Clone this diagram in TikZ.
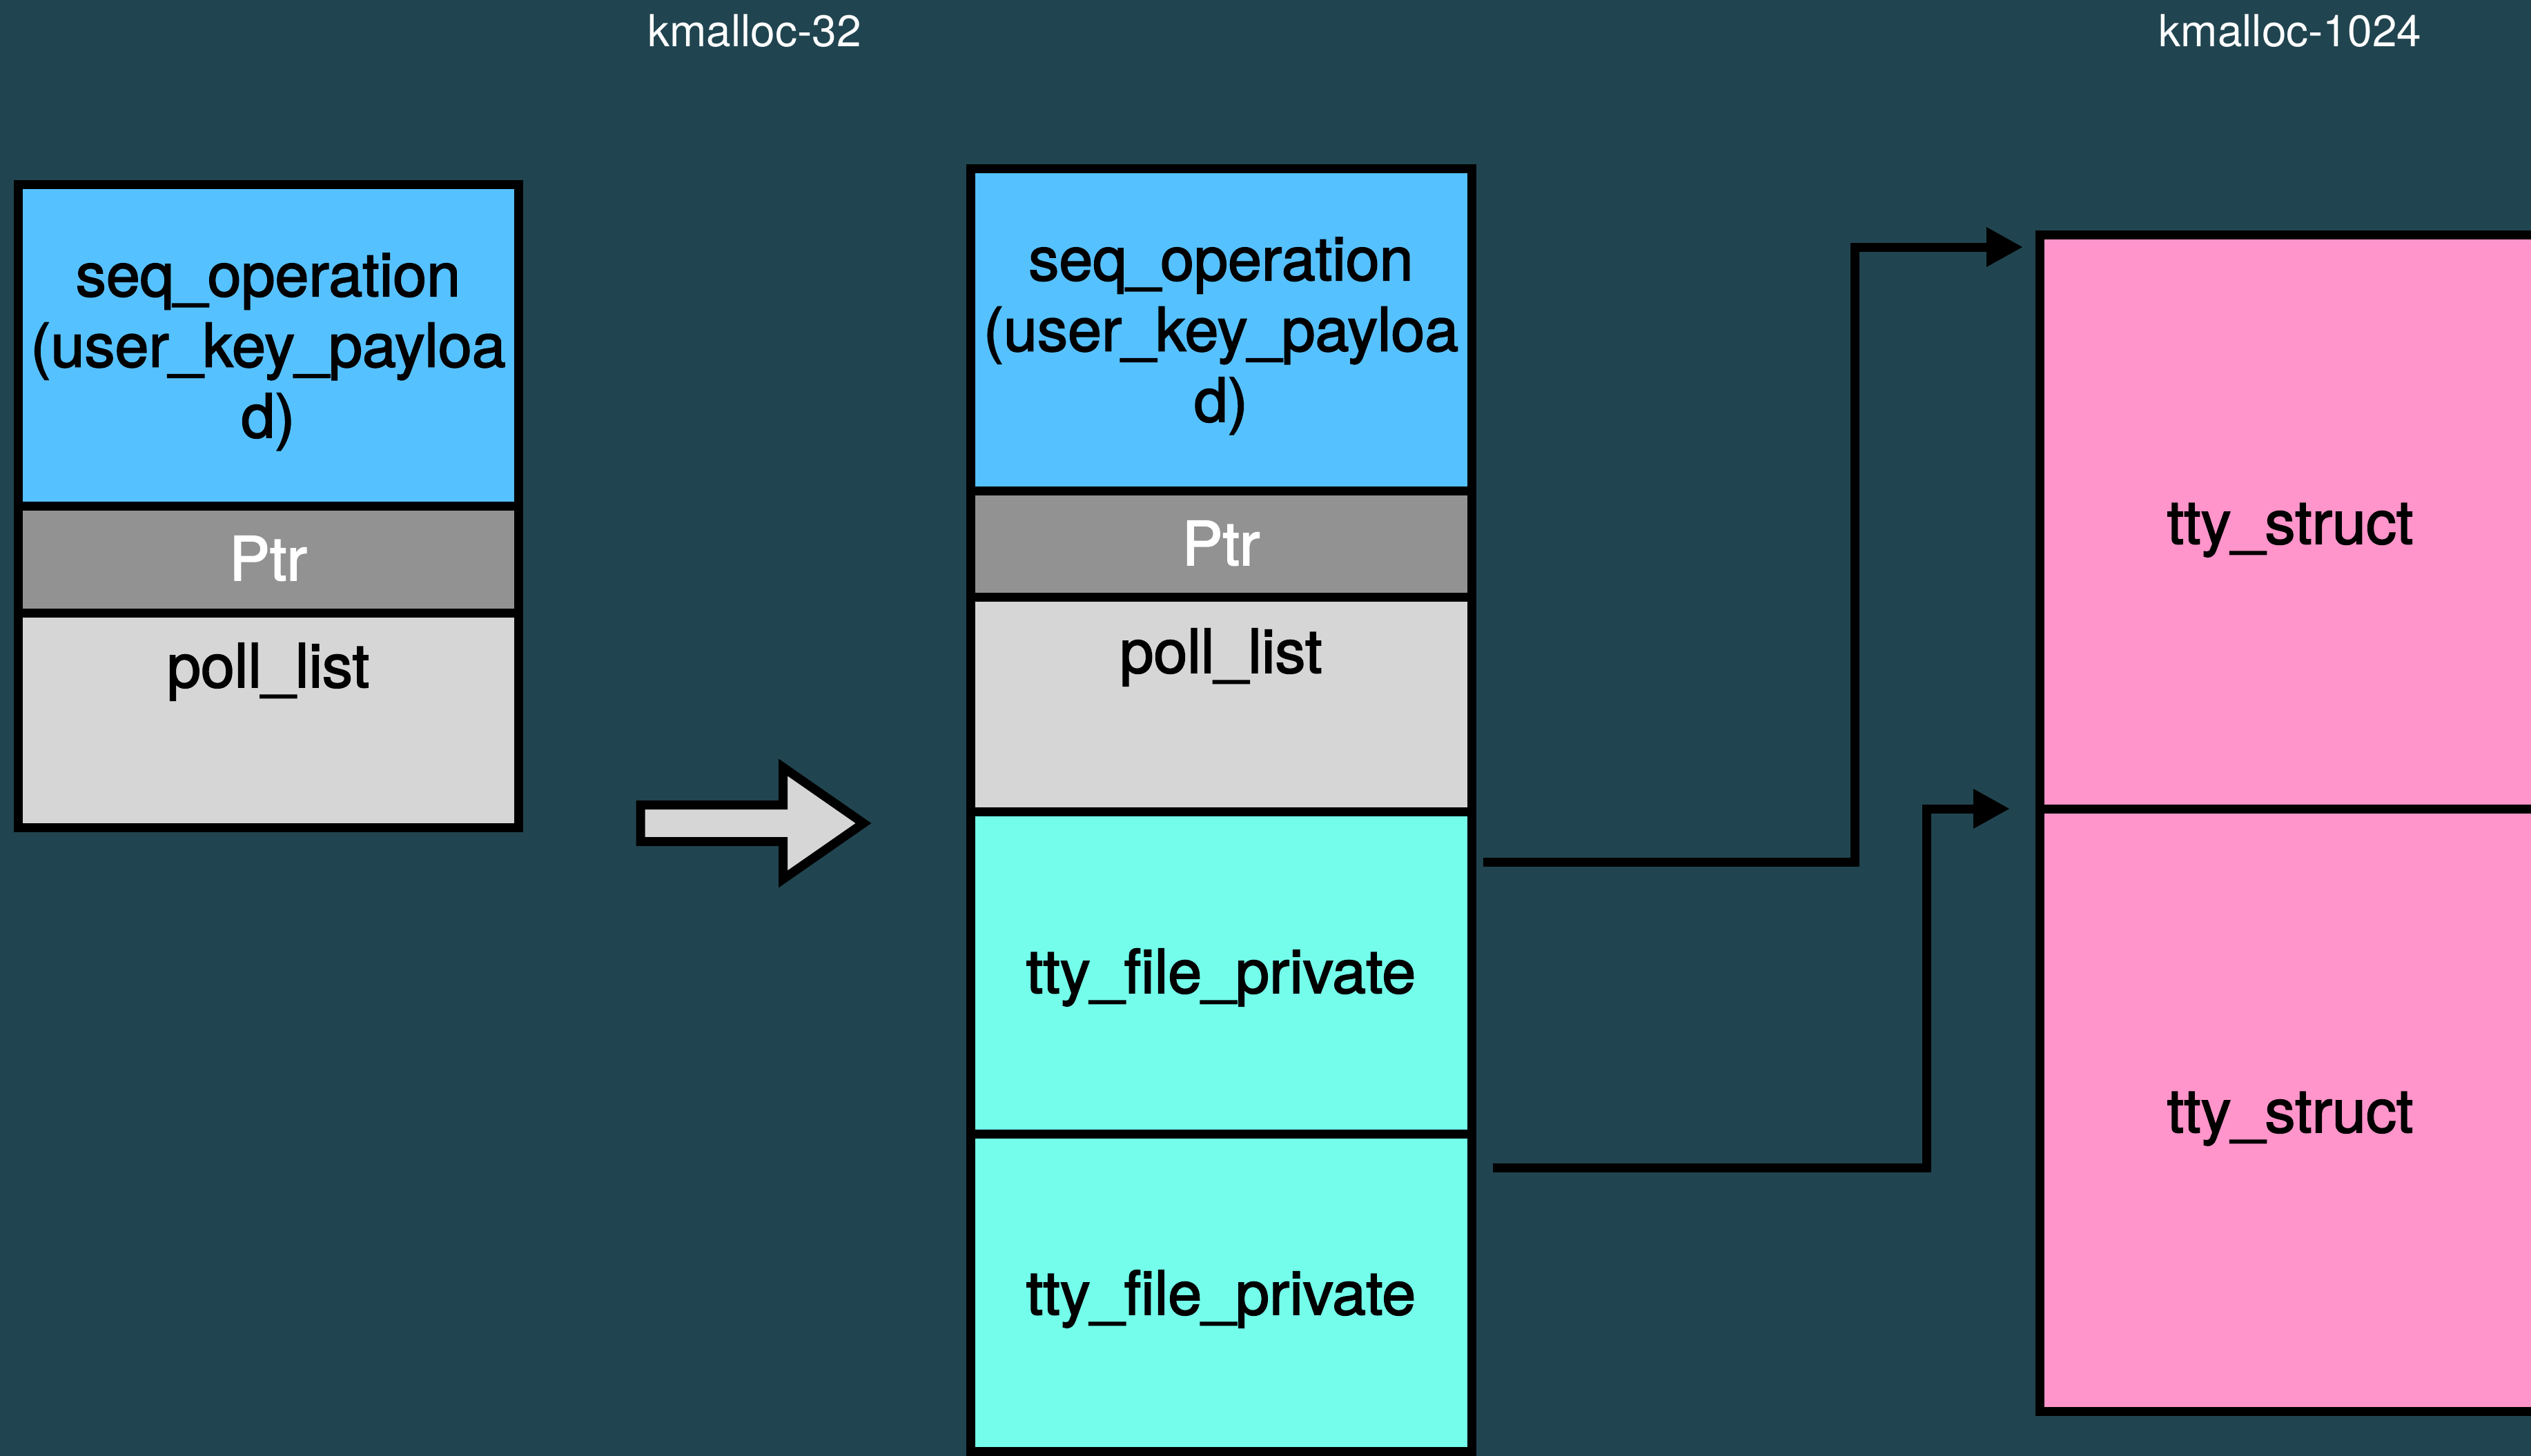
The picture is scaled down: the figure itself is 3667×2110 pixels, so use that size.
\documentclass[tikz,border=0pt]{standalone}
\usepackage{fontspec}
\setmainfont{TeX Gyre Heros}
\newfontfamily\boxfont{TeX Gyre Heros}[FakeBold=2]
\usetikzlibrary{arrows.meta,fit,calc}

\definecolor{slate}{RGB}{33,69,80}
\definecolor{seqblue}{RGB}{86,193,255}
\definecolor{ptrgray}{RGB}{146,146,146}
\definecolor{polllight}{RGB}{214,214,214}
\definecolor{ttymint}{RGB}{115,253,234}
\definecolor{ttypink}{RGB}{255,149,202}

\begin{document}
\begin{tikzpicture}[x=0.25pt,y=-0.25pt,
  cell/.style={draw=black, line width=3.25pt, inner sep=0pt, outer sep=0pt},
  lbl/.style={font=\boxfont\fontsize{22}{25.6}\selectfont, text=black, inner sep=0pt, anchor=base, align=center},
  cache/.style={font=\fontsize{16}{19}\selectfont, text=white, inner sep=0pt, anchor=base},
  conn/.style={draw=black, line width=3.25pt, line join=miter, -{Triangle[length=13.25pt,width=13.5pt]}},
  bigarrow/.style={draw=black, fill=polllight, line width=3.25pt, line join=miter}]

% canvas
\useasboundingbox (0,0) rectangle (3667,2110);
\clip (0,0) rectangle (3667,2110);
\fill[slate] (0,0) rectangle (3667,2110);

% cache names
\node[cache] (c32) at (1093,67) {kmalloc-32};
\node[cache] (c1k) at (3318,67) {kmalloc-1024};

% kmalloc-32 object before the spray
\node[cell, fill=seqblue,   fit={(26,267) (751,733)}]  (lseq)  {};
\node[cell, fill=ptrgray,   fit={(26,733) (751,888)}]  (lptr)  {};
\node[cell, fill=polllight, fit={(26,888) (751,1199)}] (lpoll) {};
% multi-line labels: the base anchor sits on the last line
\node[lbl] at (388.5,634) {seq\_operation\\(user\_key\_payloa\\d)};
\node[lbl, text=white] at (388.5,841) {Ptr};
\node[lbl] at (388.5,996) {poll\_list};

% transition arrow
\draw[bigarrow] (928,1166.5) -- (1134.5,1166.5) -- (1134.5,1112) -- (1251,1193)
  -- (1134.5,1274) -- (1134.5,1219.5) -- (928,1219.5) -- cycle;

% kmalloc-32 slab after the spray
\node[cell, fill=seqblue,   fit={(1406,244) (2132,711)}]   (mseq)  {};
\node[cell, fill=ptrgray,   fit={(1406,711) (2132,865)}]   (mptr)  {};
\node[cell, fill=polllight, fit={(1406,865) (2132,1176)}]  (mpoll) {};
\node[cell, fill=ttymint,   fit={(1406,1176) (2132,1643)}] (tfa)   {};
\node[cell, fill=ttymint,   fit={(1406,1643) (2132,2103)}] (tfb)   {};
\node[lbl] at (1769,611) {seq\_operation\\(user\_key\_payloa\\d)};
\node[lbl, text=white] at (1769,819) {Ptr};
\node[lbl] at (1769,975) {poll\_list};
\node[lbl] at (1769,1439) {tty\_file\_private};
\node[lbl] at (1769,1905) {tty\_file\_private};

% kmalloc-1024 objects
\node[cell, fill=ttypink, fit={(2955,340) (3681,1172)}]  (tsa) {};
\node[cell, fill=ttypink, fit={(2955,1172) (3681,2045)}] (tsb) {};
\node[lbl] at (3318,788) {tty\_struct};
\node[lbl] at (3318,1641) {tty\_struct};

% pointers from tty_file_private to tty_struct
\coordinate (pa) at ($(tfa.north east)+(17,73)$);
\coordinate (ha) at ($(tsa.north west)+(-24,18)$);
\coordinate (pb) at ($(tfb.north east)+(31,49)$);
\coordinate (hb) at ($(tsb.north west)+(-43,0)$);
\draw[conn] (pa) -- ++(538,0) |- (ha);
\draw[conn] (pb) -- ++(628,0) |- (hb);
\end{tikzpicture}
\end{document}
